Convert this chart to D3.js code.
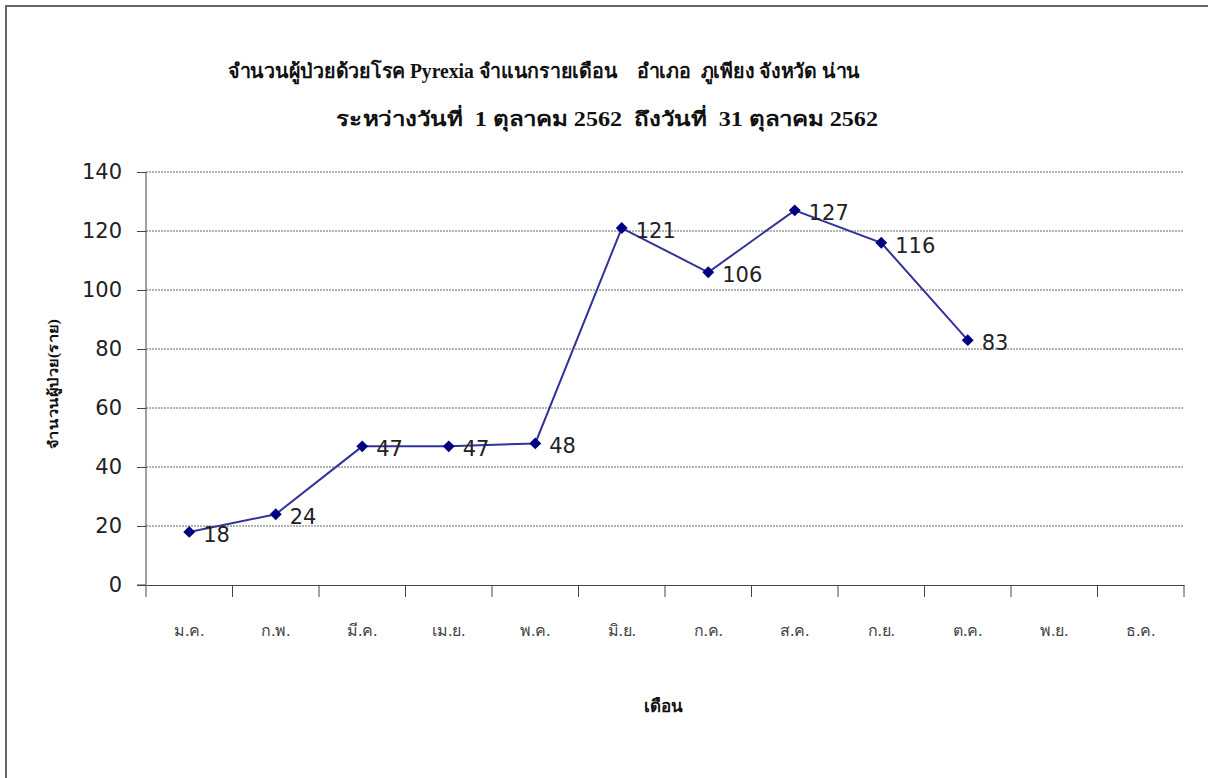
<!DOCTYPE html>
<html><head><meta charset="utf-8">
<script src="https://cdn.jsdelivr.net/npm/d3@7"></script>
<style>body{margin:0;background:#fff}</style>
</head><body><svg id="c" width="1208" height="778"></svg>
<script>
const months = ["ม.ค.","ก.พ.","มี.ค.","เม.ย.","พ.ค.","มิ.ย.","ก.ค.","ส.ค.","ก.ย.","ต.ค.","พ.ย.","ธ.ค."];
const cases = [18,24,47,47,48,121,106,127,116,83,null,null];
const yTicks = [0,20,40,60,80,100,120,140];
const titleLine1 = "จำนวนผู้ป่วยด้วยโรค Pyrexia จำแนกรายเดือน    อำเภอ  ภูเพียง จังหวัด น่าน";
const titleLine2 = "ระหว่างวันที่  1 ตุลาคม 2562  ถึงวันที่  31 ตุลาคม 2562";
const yTitle = "จำนวนผู้ป่วย(ราย)";
const xTitle = "เดือน";

const svg = d3.select("#c");
const L=146,R=1184,T=172,B=585;
const x = d3.scaleBand().domain(months).range([L,R]);
const y = d3.scaleLinear().domain([0,140]).range([B,T]);
const numFont = "DejaVu Sans, Verdana, sans-serif";

// frame
svg.append("rect").attr("x",6).attr("y",6).attr("width",1220).attr("height",800)
  .attr("fill","none").attr("stroke","#666").attr("stroke-width",2);

// grid
svg.append("g").selectAll("line").data(yTicks.filter(d=>d>0)).join("line")
  .attr("x1",L).attr("x2",R).attr("y1",d=>y(d)).attr("y2",d=>y(d))
  .attr("stroke","#666").attr("stroke-width",1).attr("stroke-dasharray","2,1");

// y axis
const ya = svg.append("g").attr("transform",`translate(${L},0)`)
  .call(d3.axisLeft(y).tickValues(yTicks).tickSize(9).tickPadding(15));
ya.select(".domain").attr("stroke","#444").attr("d",`M-9,${y(0)}H0V${T}`);
ya.selectAll(".tick line").attr("stroke","#444");
ya.selectAll("text").attr("font-family",numFont).attr("font-size",21).attr("fill","#222");

// x axis
const xa = svg.append("g").attr("transform",`translate(0,${B})`)
  .call(d3.axisBottom(x).tickSize(0).tickPadding(40));
xa.select(".domain").attr("stroke","#444");
xa.selectAll("text").attr("font-family","Liberation Serif, serif").attr("font-size",16).attr("fill","#444");
svg.append("g").selectAll("line").data(months.concat(["end"])).join("line")
  .attr("x1",(d,i)=>L+i*x.bandwidth()).attr("x2",(d,i)=>L+i*x.bandwidth())
  .attr("y1",B).attr("y2",B+12).attr("stroke","#444");

// line
const pts = months.map((m,i)=>({m,v:cases[i]})).filter(d=>d.v!=null);
svg.append("path").datum(pts)
  .attr("d",d3.line().x(d=>x(d.m)+x.bandwidth()/2).y(d=>y(d.v)))
  .attr("fill","none").attr("stroke","#333399").attr("stroke-width",2);
svg.append("g").selectAll("path").data(pts).join("path")
  .attr("d",d3.symbol(d3.symbolDiamond2,90))
  .attr("transform",d=>`translate(${x(d.m)+x.bandwidth()/2},${y(d.v)})`)
  .attr("fill","#000080");
svg.append("g").selectAll("text").data(pts).join("text")
  .attr("x",d=>x(d.m)+x.bandwidth()/2+14).attr("y",d=>y(d.v)+10)
  .attr("font-family",numFont).attr("font-size",21).attr("fill","#222")
  .text(d=>d.v);

// titles
svg.append("text").attr("x",228).attr("y",78)
  .attr("font-family","Liberation Serif, serif").attr("font-weight","bold").attr("font-size",20)
  .attr("fill","#111").style("white-space","pre")
  .attr("textLength",632).attr("lengthAdjust","spacingAndGlyphs").text(titleLine1);
svg.append("text").attr("x",336).attr("y",126)
  .attr("font-family","Liberation Serif, serif").attr("font-weight","bold").attr("font-size",20)
  .attr("fill","#111").style("white-space","pre")
  .attr("textLength",542).attr("lengthAdjust","spacingAndGlyphs").text(titleLine2);
svg.append("text").attr("transform","translate(58,384) rotate(-90)").attr("text-anchor","middle")
  .attr("font-family","Liberation Serif, serif").attr("font-weight","bold").attr("font-size",14)
  .attr("fill","#111").attr("textLength",130).attr("lengthAdjust","spacingAndGlyphs").text(yTitle);
svg.append("text").attr("x",663).attr("y",712).attr("text-anchor","middle")
  .attr("font-family","Liberation Serif, serif").attr("font-weight","bold").attr("font-size",17)
  .attr("fill","#111").text(xTitle);
</script></body></html>
